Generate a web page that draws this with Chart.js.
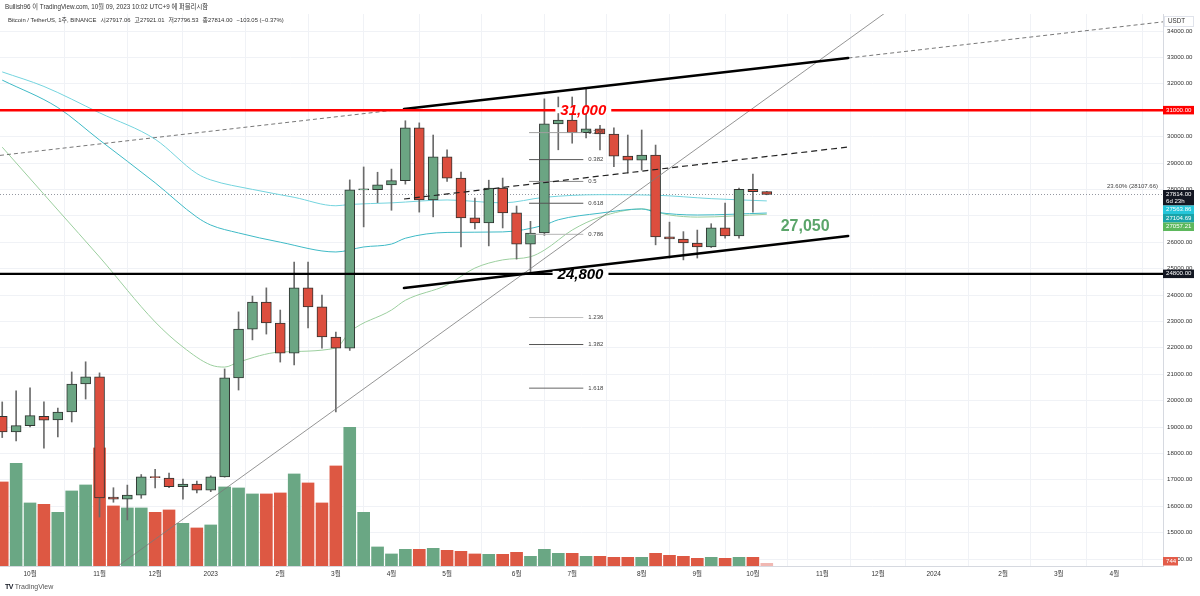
<!DOCTYPE html>
<html>
<head>
<meta charset="utf-8">
<script src="https://cdn.jsdelivr.net/npm/chart.js@4.4.0/dist/chart.umd.min.js"></script>
<style>
html,body{margin:0;padding:0;background:#fff;}
#wrap{position:relative;width:1200px;height:596px;overflow:hidden;}
#c{position:absolute;left:0;top:0;}
.txt{position:absolute;white-space:nowrap;color:#333;font-family:"Liberation Sans","Noto Sans CJK KR",sans-serif;}
.txt span{margin-left:4px;}
</style>
</head>
<body>
<div id="wrap">
<canvas id="c" width="1200" height="596"></canvas>
<div class="txt" style="left:5px;top:2px;font-size:6.3px;">Bullish96 이 TradingView.com, 10월 09, 2023 10:02 UTC+9 에 퍼블리시함</div>
<div class="txt" style="left:8px;top:15px;font-size:5.9px;">Bitcoin / TetherUS, 1주, BINANCE<span>시27917.06</span><span>고27921.01</span><span>저27796.53</span><span>종27814.00</span><span>−103.05 (−0.37%)</span></div>
<div class="txt" style="left:5px;top:583px;font-size:7px;color:#555;"><b style="color:#131722;letter-spacing:-0.5px;">TV</b> TradingView</div>
</div>
<script>
// weekly candles, index 0 = week of 2022-09-19
var opens  = [19400,18810,19050,19400,19270,19570,20630,20900,16350,16270,16420,17100,17070,16740,16840,16610,17110,20860,22710,23730,22940,21800,24270,23550,22410,21990,27980,27990,28170,28330,30330,27600,29230,28430,26920,26730,28050,27110,25930,26350,30480,30630,30150,30290,30100,29260,29110,29300,26200,26120,25970,25820,26540,26240,28000,27917];
var highs  = [19950,20370,20480,19950,19720,21085,21470,21050,16700,16800,17200,17400,17250,17030,16950,17150,21200,23360,23960,24270,23430,25250,25250,24000,22600,28360,28850,28650,28770,30600,30520,30060,29500,28660,27670,28350,28430,27370,26790,31430,31500,31500,31800,30430,30330,30060,30250,29680,26760,26400,26460,26700,27480,28050,28580,27921];
var lows   = [18600,18470,19000,18200,18620,19190,20060,15590,16150,15480,16300,16690,16700,16270,16500,16550,17100,20400,22300,22520,21460,21350,22750,21990,19570,21900,26580,27500,27210,28200,27140,26960,28300,25820,26500,25860,26540,25360,24800,26260,29500,29750,29950,29500,28860,28620,28730,25900,25400,25330,25400,25800,26150,26150,27140,27797];
var closes = [18810,19050,19430,19260,19570,20630,20900,16310,16270,16420,17110,17080,16740,16840,16610,17110,20860,22710,23730,22940,21800,24270,23550,22410,21990,27980,27990,28170,28330,30330,27600,29230,28430,26920,26730,28050,27110,25930,26350,30480,30630,30150,30290,30100,29260,29110,29300,26200,26120,25970,25820,26540,26240,28000,27917,27814];
// volume in thousand BTC
var volumes = [1690,2060,1270,1240,1080,1510,1630,2370,1210,1170,1170,1080,1130,860,770,830,1590,1570,1450,1450,1470,1850,1670,1270,2010,2780,1080,390,250,340,340,360,320,300,250,240,240,280,200,340,260,260,200,200,180,180,180,260,220,200,160,180,160,180,180,0.744];

// moving averages
var ma1Weeks  = [0,3,7,11,14,15,18,21,24,25,28,32,36,39,43,47,51,55];
var ma1Values = [32450,31900,30900,29900,28600,28360,28000,27700,27380,27430,27490,27600,27490,27700,27800,27780,27650,27564];
var ma2Weeks  = [0,4,7,11,14,15,17,20,24,26,28,29,32,36,39,40,43,46,47,50,55];
var ma2Values = [32140,31100,29870,28250,26950,26650,26350,26000,25630,25820,25930,26150,26370,26390,26650,26850,27100,27260,27140,27030,27105];
var ma3Weeks  = [0,4,7,11,13,15,16,17,20,24,25,28,29,32,34,36,38,39,41,43,46,48,50,55];
var ma3Values = [29600,27220,25440,22980,22030,21350,21270,21460,21840,21990,22600,23430,23800,24380,25020,25330,25450,25700,26460,26950,27260,27030,26950,27057];

// time axis
var monthTicks  = [2,7,11,15,20,24,28,32,37,41,46,50,54,59,63,67,72,76,80];
var monthLabels = ['10월','11월','12월','2023','2월','3월','4월','5월','6월','7월','8월','9월','10월','11월','12월','2024','2월','3월','4월'];

// drawings
var levelPrices = [31000, 24800];
var levelTexts  = ['31,000', '24,800'];
var levelWeek   = [41.8, 41.6];
var channelWeeks = [28.9, 60.85];
var upperLine = [31045, 32977];
var midLine   = [27636, 29606];
var lowerLine = [24265, 26235];
var trendWeeks  = [8.33, 63.4];
var trendPrices = [13735, 34644];
var fibHigh = 31804, fibLow = 24800;
var fibRatios = [0.236, 0.382, 0.5, 0.618, 0.786, 1.236, 1.382, 1.618];
var fibColors = ['#a0a0a0', '#555', '#8a8a8a', '#555', '#b5b5b5', '#c0c0c0', '#555', '#666'];
var fibWeeks = [37.9, 41.8];
var lastPrice = 27814;
var maLast = [27563.86, 27104.69, 27057.21];

var upColor = '#6ba583', downColor = '#dc4e3e';
var font = '"Liberation Sans","Noto Sans CJK KR",sans-serif';

var idx = opens.map(function (o, i) { return i; });
var isUp = idx.map(function (i) { return closes[i] >= opens[i]; });

function pts(w, v) { return w.map(function (x, k) { return {x: x, y: v[k]}; }); }

var drawings = {
  id: 'drawings',
  beforeDatasetsDraw: function (chart) {
    var c = chart.ctx, a = chart.chartArea, y = chart.scales.y;
    c.save();
    c.strokeStyle = '#9598a1'; c.lineWidth = 1; c.setLineDash([1, 2]);
    var py = Math.round(y.getPixelForValue(lastPrice)) + 0.5;
    c.beginPath(); c.moveTo(a.left, py); c.lineTo(a.right, py); c.stroke();
    c.restore();
  },
  afterDatasetsDraw: function (chart) {
    var c = chart.ctx, a = chart.chartArea;
    var X = function (v) { return chart.scales.x.getPixelForValue(v); };
    var Y = function (v) { return chart.scales.y.getPixelForValue(v); };
    c.save();
    c.beginPath(); c.rect(a.left, a.top, a.right - a.left, a.bottom - a.top); c.clip();

    // fib levels
    c.font = '6px ' + font; c.textBaseline = 'middle'; c.textAlign = 'left';
    fibRatios.forEach(function (r, k) {
      var py = Y(fibHigh - r * (fibHigh - fibLow));
      c.strokeStyle = fibColors[k]; c.lineWidth = 1;
      c.beginPath(); c.moveTo(X(fibWeeks[0]), py); c.lineTo(X(fibWeeks[1]), py); c.stroke();
      c.fillStyle = '#444';
      c.fillText(String(r), X(fibWeeks[1]) + 5, py);
    });

    // long trend line
    var sl = (trendPrices[1] - trendPrices[0]) / (trendWeeks[1] - trendWeeks[0]);
    c.strokeStyle = '#7a7a7a'; c.lineWidth = 0.8;
    c.beginPath();
    c.moveTo(X(trendWeeks[0]), Y(trendPrices[0]));
    c.lineTo(X(trendWeeks[1] + 5), Y(trendPrices[1] + 5 * sl));
    c.stroke();

    // thin dashed extension of the upper channel line
    var su = (upperLine[1] - upperLine[0]) / (channelWeeks[1] - channelWeeks[0]);
    var x0 = chart.scales.x.min, x1 = chart.scales.x.max;
    c.strokeStyle = '#555'; c.lineWidth = 0.8; c.setLineDash([4, 3]);
    c.beginPath();
    c.moveTo(X(x0), Y(upperLine[0] + (x0 - channelWeeks[0]) * su));
    c.lineTo(X(x1), Y(upperLine[0] + (x1 - channelWeeks[0]) * su));
    c.stroke();

    // channel mid (dashed)
    c.strokeStyle = '#222'; c.lineWidth = 1.2; c.setLineDash([6, 4]);
    c.beginPath(); c.moveTo(X(channelWeeks[0]), Y(midLine[0])); c.lineTo(X(channelWeeks[1]), Y(midLine[1])); c.stroke();
    c.setLineDash([]);

    // channel borders
    c.strokeStyle = '#000'; c.lineWidth = 2.6; c.lineCap = 'round';
    [upperLine, lowerLine].forEach(function (l) {
      c.beginPath(); c.moveTo(X(channelWeeks[0]), Y(l[0])); c.lineTo(X(channelWeeks[1]), Y(l[1])); c.stroke();
    });
    c.lineCap = 'butt';

    // horizontal levels with text
    var lc = ['#ff0000', '#000000'];
    c.font = 'italic bold 15px ' + font; c.textAlign = 'center'; c.textBaseline = 'middle';
    levelPrices.forEach(function (p, k) {
      var py = Y(p);
      c.strokeStyle = lc[k]; c.lineWidth = 2.4;
      c.beginPath(); c.moveTo(a.left, py); c.lineTo(a.right, py); c.stroke();
      var tx = X(levelWeek[k]), w = c.measureText(levelTexts[k]).width;
      c.fillStyle = '#fff'; c.fillRect(tx - w / 2 - 5, py - 3, w + 10, 6);
      c.fillStyle = lc[k]; c.fillText(levelTexts[k], tx, py + 1);
    });

    // 27,050 note
    c.font = 'bold 16px ' + font; c.textAlign = 'left'; c.fillStyle = '#5ba56a';
    c.fillText('27,050', X(56.0), Y(26600));

    // fib label at right
    c.font = '6px ' + font; c.textAlign = 'right'; c.fillStyle = '#444';
    c.fillText('23.60% (28107.66)', a.right - 5, Y(lastPrice) - 8);
    c.restore();
  },
  afterDraw: function (chart) {
    var c = chart.ctx, a = chart.chartArea, y = chart.scales.y;
    c.save();
    c.textBaseline = 'middle'; c.textAlign = 'left';
    // unit box
    c.fillStyle = '#fff'; c.strokeStyle = '#e0e3eb'; c.lineWidth = 1;
    c.fillRect(a.right + 1, 16, 30, 11); c.strokeRect(a.right + 1.5, 16.5, 29, 10);
    c.fillStyle = '#333'; c.font = '6.3px ' + font; c.fillText('USDT', a.right + 5, 21.5);

    c.font = '6.1px ' + font;
    function tag(top, lines, bg, fg, w) {
      var h = lines.length * 7 + 1.5;
      c.fillStyle = bg; c.fillRect(a.right, top, w || 31, h);
      c.fillStyle = fg;
      lines.forEach(function (t, k) { c.fillText(t, a.right + 3, top + 4 + k * 7); });
      return top + h;
    }
    tag(y.getPixelForValue(levelPrices[0]) - 4.3, [levelPrices[0].toFixed(2)], '#ff0000', '#fff');
    var b = tag(y.getPixelForValue(lastPrice) - 4.3, [lastPrice.toFixed(2), '6d 23h'], '#131722', '#fff');
    var maCols = ['#26c6da', '#1aa3a8', '#5cb85c'];
    maLast.forEach(function (v, k) {
      var t = Math.max(y.getPixelForValue(v) - 4.3, b);
      b = tag(t, [v.toFixed(2)], maCols[k], '#fff');
    });
    tag(y.getPixelForValue(levelPrices[1]) - 4.3, [levelPrices[1].toFixed(2)], '#131722', '#fff');
    tag(a.bottom - 9, [String(Math.round(volumes[volumes.length - 1] * 1000))], '#e35d4a', '#fff', 15);
    c.restore();
  }
};

new Chart(document.getElementById('c'), {
  type: 'bar',
  data: {
    datasets: [
      {
        label: 'body', order: 0, grouped: false, barThickness: 10, minBarLength: 1,
        data: idx.map(function (i) { return {x: i, y: [opens[i], closes[i]]}; }),
        backgroundColor: idx.map(function (i) { return isUp[i] ? upColor : downColor; }),
        borderColor: '#2f3431', borderWidth: 1, borderSkipped: false
      },
      {
        label: 'wick', order: 1, grouped: false, barThickness: 1,
        data: idx.map(function (i) { return {x: i, y: [lows[i], highs[i]]}; }),
        backgroundColor: '#6b6b6b'
      },
      {
        type: 'line', label: 'ma1', order: 2, data: pts(ma1Weeks, ma1Values),
        borderColor: '#74d4de', borderWidth: 1, pointRadius: 0, cubicInterpolationMode: 'monotone'
      },
      {
        type: 'line', label: 'ma2', order: 2, data: pts(ma2Weeks, ma2Values),
        borderColor: '#3fbac6', borderWidth: 1, pointRadius: 0, cubicInterpolationMode: 'monotone'
      },
      {
        type: 'line', label: 'ma3', order: 2, data: pts(ma3Weeks, ma3Values),
        borderColor: '#9ccf9f', borderWidth: 1, pointRadius: 0, cubicInterpolationMode: 'monotone'
      },
      {
        label: 'volume', order: 3, grouped: false, barThickness: 13, yAxisID: 'yv', minBarLength: 3,
        data: idx.map(function (i) { return {x: i, y: volumes[i]}; }),
        backgroundColor: idx.map(function (i) {
          if (i === idx.length - 1) return 'rgba(220,78,62,0.4)';
          return isUp[i] ? '#6aa784' : '#dd5843';
        }),
        borderColor: 'rgba(255,255,255,0.6)', borderWidth: {left: 0.5, right: 0.5, top: 0, bottom: 0}
      }
    ]
  },
  options: {
    responsive: false,
    devicePixelRatio: 1,
    animation: false,
    events: [],
    layout: {padding: {top: 14, left: 0, right: 0, bottom: 15}},
    plugins: {legend: {display: false}, tooltip: {enabled: false}},
    scales: {
      x: {
        type: 'linear', min: -0.16, max: 83.5, offset: false,
        grid: {color: '#f0f2f6', drawTicks: false},
        border: {color: '#d6d9e0'},
        ticks: {
          autoSkip: false, maxRotation: 0, padding: 4, color: '#333', font: {size: 6.5, family: font},
          callback: function (v) { var k = monthTicks.indexOf(v); return k < 0 ? '' : monthLabels[k]; }
        },
        afterBuildTicks: function (s) { s.ticks = monthTicks.map(function (v) { return {value: v}; }); },
        afterFit: function (s) { s.height = 15; }
      },
      y: {
        type: 'linear', position: 'right', min: 13735, max: 34644,
        grid: {color: '#f0f2f6', drawTicks: false},
        border: {color: '#d6d9e0'},
        ticks: {
          padding: 4, color: '#333', font: {size: 6.1, family: font},
          callback: function (v) { return v.toFixed(2); }
        },
        afterBuildTicks: function (s) {
          var t = [];
          for (var v = 14000; v <= 34000; v += 1000) t.push({value: v});
          s.ticks = t;
        },
        afterFit: function (s) { s.width = 37; }
      },
      yv: {display: false, min: 0, max: 11040}
    }
  },
  plugins: [drawings]
});
</script>
</body>
</html>
